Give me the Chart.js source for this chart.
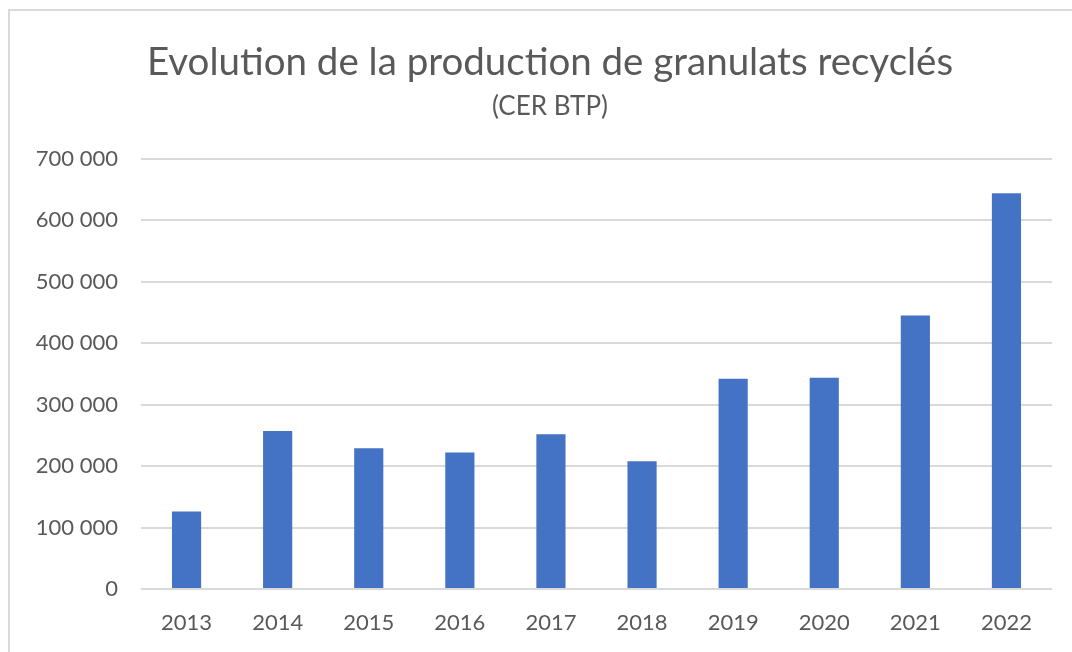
<!DOCTYPE html>
<html>
<head>
<meta charset="utf-8">
<script src="https://cdn.jsdelivr.net/npm/chart.js@4"></script>
<style>
  html, body { margin: 0; padding: 0; background: #fff; overflow: hidden; }
  body { width: 1072px; height: 652px; position: relative; }
  #frame { position: absolute; left: 8px; top: 9px; width: 1100px; height: 700px; border: 2px solid #d9d9d9; box-sizing: border-box; }
  #wrap { position: absolute; left: 9px; top: 0; width: 1082px; height: 652px; }
</style>
</head>
<body>
<div id="frame"></div>
<div id="wrap"><canvas id="chart"></canvas></div>
<script>
// data
const years = ["2013", "2014", "2015", "2016", "2017", "2018", "2019", "2020", "2021", "2022"];
const tonnes = [126000, 257000, 229000, 222000, 252000, 208000, 342000, 344000, 445000, 644000];
const yMax = 700000;
const yStep = 100000;

const textColor = "#595959";
const gridColor = "#d9d9d9";
const barColor = "#4472C4";

Chart.defaults.font.family = "Lato, 'Open Sans', sans-serif";
Chart.defaults.color = textColor;

// "700 000" style labels
const fmt = (v) => String(v).replace(/\B(?=(\d{3})+(?!\d))/g, " ");

new Chart(document.getElementById("chart"), {
  type: "bar",
  data: {
    labels: years,
    datasets: [
      {
        data: tonnes,
        backgroundColor: barColor,
        barPercentage: 0.32,
        categoryPercentage: 1,
      },
    ],
  },
  options: {
    responsive: true,
    maintainAspectRatio: false,
    animation: false,
    layout: { padding: 0 },
    plugins: {
      legend: { display: false },
      tooltip: { enabled: false },
      title: {
        display: true,
        text: "Evolution de la production de granulats recyclés",
        color: textColor,
        font: { size: 38.5, weight: "normal", lineHeight: 1.2 },
        padding: { top: 39, bottom: 0 },
      },
      subtitle: {
        display: true,
        text: "(CER BTP)",
        color: textColor,
        font: { size: 26, weight: "normal", lineHeight: 1.2 },
        padding: { top: 6, bottom: 36.5 },
      },
    },
    scales: {
      x: {
        grid: { display: false, drawTicks: false },
        border: { display: false },
        ticks: { color: textColor, font: { size: 22 }, padding: 21, maxRotation: 0 },
        afterFit: (scale) => { scale.height = 63; },
      },
      y: {
        min: 0,
        max: yMax,
        grid: { color: gridColor, lineWidth: 2, drawTicks: false },
        border: { display: false },
        ticks: { stepSize: yStep, color: textColor, font: { size: 22 }, padding: 23, callback: fmt },
        afterFit: (scale) => { scale.width = 132; },
      },
      // empty right-hand spacer so the title stays centred on the whole frame
      yRight: {
        position: "right",
        grid: { display: false, drawTicks: false },
        border: { display: false },
        ticks: { display: false },
        afterFit: (scale) => { scale.width = 39; },
      },
    },
  },
});
</script>
</body>
</html>
